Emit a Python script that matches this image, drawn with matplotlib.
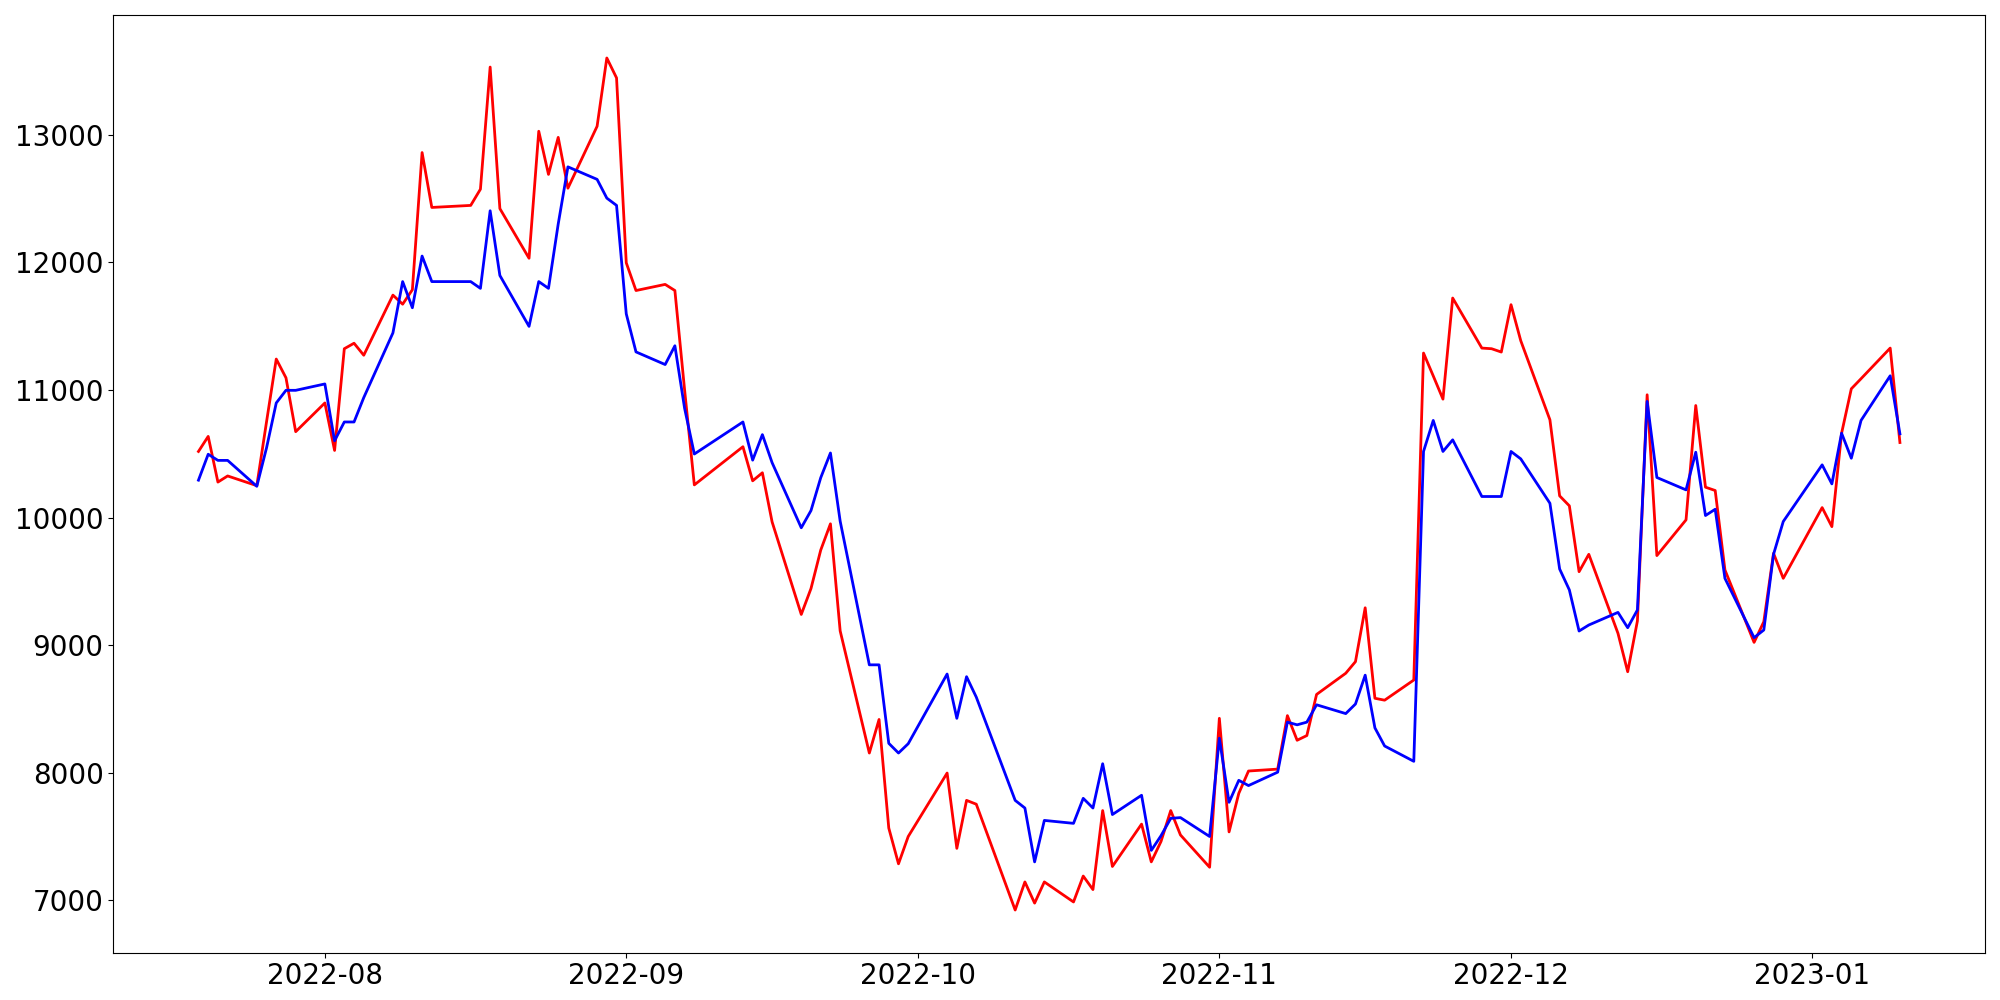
import pandas as pd
import matplotlib
matplotlib.use("Agg")
import matplotlib.pyplot as plt
import matplotlib.dates as mdates

# trading days (KRX calendar, holidays removed)
start_date = "2022-07-19"
end_date = "2023-01-10"
holidays = ["2022-08-15", "2022-09-09", "2022-09-12", "2022-10-03",
            "2022-10-10", "2022-12-30"]
dates = pd.bdate_range(start_date, end_date, freq="C", holidays=holidays)

red_values = [
    # Jul
    10518, 10636, 10278, 10326, 10250, 10750, 11242, 11095, 10673,
    # Aug
    10898, 10526, 11323, 11366, 11272, 11743, 11672, 11785, 12860, 12430,
    12446, 12573, 13530, 12421, 12032, 13027, 12689, 12979, 12581, 13066,
    13601, 13445,
    # Sep
    11996, 11779, 11827, 11779, 11000, 10256, 10555, 10288, 10351, 9966,
    9241, 9444, 9745, 9951, 9112, 8155, 8418, 7567, 7287, 7501,
    # Oct
    7998, 7408, 7784, 7754, 6925, 7145, 6979, 7145, 6988, 7191,
    7085, 7704, 7266, 7598, 7302, 7462, 7704, 7513, 7260,
    # Nov
    8427, 7537, 7839, 8014, 8029, 8448, 8255, 8292, 8614, 8780,
    8871, 9293, 8584, 8569, 8727, 11289, 11110, 10928, 11720, 11328,
    11323, 11297,
    # Dec
    11668, 11386, 10766, 10170, 10092, 9576, 9712, 9093, 8792, 9190,
    10962, 9702, 9982, 10878, 10238, 10212, 9590, 9022, 9184, 9720, 9524,
    # Jan
    10078, 9929, 10661, 11009, 11088, 11328, 10588,
]

blue_values = [
    # Jul
    10293, 10496, 10448, 10448, 10245, 10546, 10898, 10997, 10997,
    # Aug
    11047, 10602, 10749, 10749, 10940, 11447, 11849, 11644, 12049, 11849,
    11849, 11796, 12404, 11897, 11498, 11849, 11796, 12300, 12748, 12650,
    12503, 12446,
    # Sep
    11596, 11298, 11199, 11346, 10856, 10498, 10749, 10450, 10650, 10430,
    9920, 10055, 10312, 10506, 9972, 8846, 8846, 8231, 8155, 8228,
    # Oct
    8774, 8427, 8753, 8593, 7784, 7724, 7302, 7627, 7604, 7800,
    7724, 8071, 7673, 7824, 7392, 7507, 7643, 7649, 7501,
    # Nov
    8271, 7769, 7941, 7900, 8005, 8397, 8376, 8397, 8533, 8464,
    8539, 8765, 8352, 8210, 8090, 10518, 10761, 10518, 10609, 10165,
    10165, 10165,
    # Dec
    10518, 10460, 10112, 9597, 9433, 9111, 9158, 9257, 9137, 9276,
    10910, 10314, 10217, 10512, 10016, 10065, 9524, 9059, 9119, 9712, 9969,
    # Jan
    10413, 10264, 10661, 10465, 10761, 11111, 10656,
]

fig, ax = plt.subplots(figsize=(20, 10), dpi=100)
fig.subplots_adjust(left=0.0567, right=0.9925, top=0.9846, bottom=0.0474)

ax.plot(dates, red_values, color="red", linewidth=2)
ax.plot(dates, blue_values, color="blue", linewidth=2)

ax.xaxis.set_major_locator(mdates.MonthLocator())
ax.xaxis.set_major_formatter(mdates.DateFormatter("%Y-%m"))
ax.tick_params(axis="both", labelsize=20)

plt.savefig("out.png")
